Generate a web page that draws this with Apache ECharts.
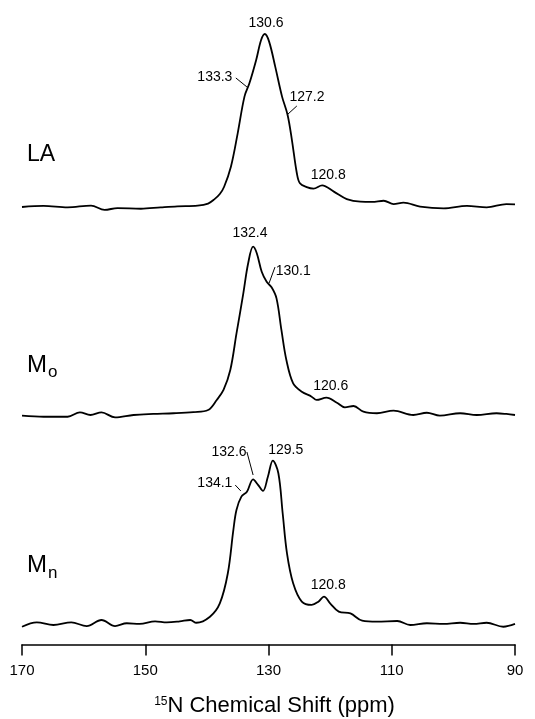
<!DOCTYPE html>
<html>
<head>
<meta charset="utf-8">
<script src="https://cdn.jsdelivr.net/npm/echarts@6/dist/echarts.min.js"></script>
<style>
  html, body { margin: 0; padding: 0; background: #fff; }
  #chart { width: 535px; height: 719px; }
</style>
</head>
<body>
<div id="chart"></div>
<script>
// 15N 化学位移 (ppm)，强度以 LA 主峰 = 100
const laShift = [170, 166.5, 162.6, 158.8, 156.6, 154.5, 150.7, 147.5, 144.8, 141.5, 139.8, 138.8, 137.9, 137.2, 136.1, 135.0, 133.9, 133.1, 132.0, 131.2, 130.6, 129.9, 128.9, 127.8, 126.9, 126.2, 125.4, 124.9, 123.8, 122.7, 121.3, 119.4, 117.3, 115.1, 113.2, 111.3, 109.7, 108.1, 105.4, 101.6, 97.8, 94.6, 91.4, 90]
const laInt = [0, 0.6, -0.2, 0.8, -1.7, -0.6, -1, -0.2, 0.4, 0.8, 2, 4.4, 7.5, 11.7, 23.3, 42.6, 63.8, 71.5, 85, 96.5, 100, 95.6, 81, 63.8, 53.2, 38.7, 19.5, 13.7, 11.5, 10.6, 12.5, 8.9, 4.6, 3.1, 3.0, 3.6, 1.7, 2.5, 0.2, -0.8, 0.6, -0.2, 1.7, 1.5]

const moShift = [170, 166.5, 162.6, 160.6, 158.9, 157.1, 154.9, 151.9, 148.7, 145.4, 142.2, 139.8, 138.4, 137.3, 136.2, 135.2, 134.1, 133.3, 132.5, 131.9, 131.1, 130.3, 129.5, 128.7, 127.9, 127.1, 126.0, 124.6, 123.0, 122.2, 120.6, 118.9, 117.6, 116.2, 114.6, 112.4, 109.7, 106.5, 104.3, 102.2, 98.9, 96.2, 93.0, 91.4, 90]
const moInt = [-0.4, -1, -1, 1.5, 0, 1.5, -1.4, 0, 0.6, 1, 1.7, 2.9, 8.7, 14.5, 26, 47, 70, 87.7, 97.3, 93.5, 82.8, 77, 73.8, 67.4, 49, 31.8, 18.3, 13.5, 10.6, 8.7, 10, 7.1, 4.4, 5.2, 1.9, 1, 2.5, 0, 1.3, -0.4, 1, 0, 1, 0.6, 0]

const mnShift = [170, 167.6, 164.9, 162.0, 159.5, 157.1, 154.9, 153.0, 150.9, 148.4, 146.5, 144.4, 142.7, 141.7, 139.5, 137.9, 136.6, 135.7, 135.2, 134.4, 133.5, 132.5, 131.7, 130.9, 130.1, 129.3, 128.4, 127.7, 127.0, 126.0, 124.6, 123.0, 121.9, 121.0, 120.0, 118.6, 116.7, 114.8, 112.4, 109.1, 107.0, 104.3, 101.6, 98.9, 96.7, 94.6, 91.9, 90]
const mnInt = [-1, 1.5, 0, 1.5, -0.6, 2.9, -0.6, 1, 0.6, 2.1, 1.5, 2.1, 2.9, 1.3, 4.8, 12.5, 29.9, 55, 66.5, 74.2, 77, 84.2, 81, 77.5, 85.7, 95, 87.7, 64.6, 41.4, 24.1, 13.5, 11.6, 13.5, 16.4, 12.5, 7.7, 6.7, 2.5, 1.9, 2.3, 0, 1, 0.6, 1.3, 0.6, 1.3, -1, 0.6]

const xTicks = [170, 150, 130, 110, 90]

// 峰标注：文字、标注中心 [ppm, 强度]
const laNotes = [['130.6', 130.4, 106.4], ['133.3', 138.7, 75.1], ['127.2', 123.75, 63.6], ['120.8', 120.3, 18.5]]
const moNotes = [['132.4', 133.0, 105.2], ['130.1', 126.0, 83.2], ['120.6', 119.9, 16.8]]
const mnNotes = [['132.6', 136.4, 100], ['129.5', 127.2, 101.2], ['134.1', 138.7, 82.1], ['120.8', 120.3, 23.1]]
// 引线 [ppm1, 强度1, ppm2, 强度2]
const laLeaders = [[135.3, 74.6, 133.5, 69.4], [127.0, 53.2, 125.4, 58.4]]
const moLeaders = [[129.9, 76.3, 128.95, 85.5]]
const mnLeaders = [[133.5, 100, 132.5, 86.7], [135.4, 80.9, 134.5, 77.5]]

const FONT = 'Liberation Sans, Arial, Helvetica, sans-serif'

// 布局
const pxPerUnit = 1.73
const baselines = [207, 415, 625]
const yMax = 110
const yMins = [-10, -10, -11.2]

const chart = echarts.init(document.getElementById('chart'), null, { renderer: 'canvas' })

const zip = (a, b) => a.map((v, i) => [v, b[i]])

const grids = baselines.map((b, i) => ({
  left: 22,
  right: 20,
  top: b - yMax * pxPerUnit,
  height: (yMax - yMins[i]) * pxPerUnit
}))

const xAxes = grids.map((g, i) => {
  const last = i === grids.length - 1
  return {
    gridIndex: i,
    type: 'value',
    min: 90,
    max: 170,
    interval: 20,
    inverse: true,
    show: last,
    axisLine: { show: last, onZero: false, lineStyle: { color: '#000', width: 1.5 } },
    axisTick: { show: last, inside: false, length: 11, lineStyle: { color: '#000', width: 1.5 } },
    axisLabel: {
      show: last,
      margin: 19,
      color: '#000',
      fontFamily: FONT,
      fontSize: 15,
      formatter: v => (xTicks.includes(v) ? String(v) : '')
    },
    splitLine: { show: false },
    name: last ? '{sup|15}{main|N Chemical Shift (ppm)}' : '',
    nameLocation: 'middle',
    nameGap: 51,
    nameTextStyle: {
      padding: [0, 0, 0, 12],
      rich: {
        sup: { fontFamily: FONT, fontSize: 12, color: '#000', verticalAlign: 'top', padding: [0, 0, 10, 0] },
        main: { fontFamily: FONT, fontSize: 22, color: '#000' }
      }
    }
  }
})

const yAxes = grids.map((g, i) => ({
  gridIndex: i,
  type: 'value',
  min: yMins[i],
  max: yMax,
  show: false,
  splitLine: { show: false }
}))

const makeSeries = (shift, inten, notes, leaders, i) => ({
  type: 'line',
  xAxisIndex: i,
  yAxisIndex: i,
  data: zip(shift, inten),
  showSymbol: false,
  smooth: 0.35,
  clip: false,
  lineStyle: { color: '#000', width: 1.8 },
  markPoint: {
    symbol: 'circle',
    symbolSize: 0,
    silent: true,
    label: { show: true, position: 'inside', color: '#000', fontFamily: FONT, fontSize: 14 },
    data: notes.map(n => ({ coord: [n[1], n[2]], label: { formatter: n[0] } }))
  },
  markLine: {
    symbol: ['none', 'none'],
    silent: true,
    label: { show: false },
    lineStyle: { color: '#000', width: 1, type: 'solid' },
    data: leaders.map(l => [{ coord: [l[0], l[1]] }, { coord: [l[2], l[3]] }])
  }
})

const option = {
  animation: false,
  backgroundColor: '#fff',
  grid: grids,
  xAxis: xAxes,
  yAxis: yAxes,
  series: [
    makeSeries(laShift, laInt, laNotes, laLeaders, 0),
    makeSeries(moShift, moInt, moNotes, moLeaders, 1),
    makeSeries(mnShift, mnInt, mnNotes, mnLeaders, 2)
  ],
  graphic: [
    { type: 'text', x: 27, y: 155, style: { text: 'LA', font: '23px ' + FONT, fill: '#000', verticalAlign: 'middle' } },
    { type: 'text', x: 27, y: 365, style: { text: 'M', font: '24px ' + FONT, fill: '#000', verticalAlign: 'middle' } },
    { type: 'text', x: 48, y: 372, style: { text: 'o', font: '17px ' + FONT, fill: '#000', verticalAlign: 'middle' } },
    { type: 'text', x: 27, y: 565, style: { text: 'M', font: '24px ' + FONT, fill: '#000', verticalAlign: 'middle' } },
    { type: 'text', x: 48, y: 573, style: { text: 'n', font: '17px ' + FONT, fill: '#000', verticalAlign: 'middle' } }
  ]
}

chart.setOption(option)
</script>
</body>
</html>
